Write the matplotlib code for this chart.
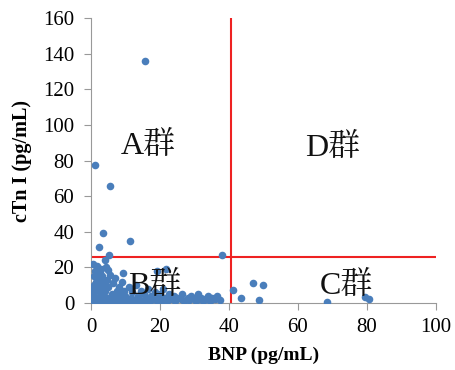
import matplotlib
matplotlib.use('Agg')
import matplotlib.pyplot as plt

# BNP (x) vs cTnI (y)
bnp = [15.7, 1.2, 5.5, 3.5, 11.3, 2.3, 38.0, 5.2, 4.1, 1.7, 21.7, 19.0, 9.3, 4.9,
       41.2, 47.0, 50.0, 43.5, 48.7, 68.4, 79.4, 80.6,
       0.5, 0.8, 1.0, 0.6, 1.2, 0.9, 1.5, 1.0, 2.0, 1.8, 2.2, 2.5, 3.0, 3.0, 3.5, 3.8,
       4.0, 4.2, 4.5, 5.0, 5.0, 5.5, 6.0, 6.0, 6.5, 7.0, 7.0, 7.5, 8.0, 8.0, 8.5, 9.0,
       9.0, 9.5, 10.0, 10.5, 11.0, 11.5, 12.0, 12.5, 13.0, 13.5, 14.0, 14.5, 15.0,
       15.5, 16.0, 16.5, 17.0, 17.5, 18.0, 18.5, 19.0, 19.5, 20.0, 20.5, 21.0, 21.5,
       22.0, 22.5, 23.0, 24.0, 24.5, 25.0, 26.0, 26.5, 27.0, 28.0, 28.5, 29.0, 30.0,
       30.5, 31.0, 32.0, 32.5, 33.0, 34.0, 34.5, 35.0, 36.0, 36.5, 37.5,
       0.3, 1.5, 2.8, 3.5, 4.8, 5.6, 7.0, 8.5, 10.0, 11.5, 13.0, 16.0, 20.0,
       0.4, 0.5, 1.3, 2.0, 2.5, 3.0, 0.7, 1.1, 2.6, 3.3, 4.4, 6.8, 9.8, 12.2, 14.8]
ctni = [136.0, 77.5, 65.7, 39.3, 34.8, 31.5, 27.0, 27.0, 24.0, 21.0, 19.0, 18.0, 17.0, 18.5,
        7.3, 11.0, 10.0, 3.0, 1.7, 0.6, 3.4, 2.2,
        0.5, 2.0, 4.0, 6.0, 8.0, 10.0, 12.0, 15.0, 14.0, 3.0, 1.0, 6.0, 9.0, 2.0, 11.0, 4.0,
        7.0, 1.5, 13.0, 3.0, 9.0, 16.0, 5.0, 1.0, 11.0, 14.0, 3.0, 7.0, 1.0, 9.0, 5.0, 12.0,
        2.0, 7.0, 4.0, 1.0, 9.0, 3.0, 6.0, 1.5, 10.0, 4.0, 2.0, 7.0, 1.0,
        5.0, 3.0, 8.0, 1.0, 4.0, 2.0, 6.0, 1.0, 3.0, 5.0, 1.0, 8.0, 3.0,
        1.0, 5.0, 2.0, 4.0, 1.0, 3.0, 2.0, 5.0, 1.0, 3.0, 1.5, 4.0, 2.0,
        1.0, 5.0, 3.0, 1.0, 2.0, 4.0, 1.0, 3.0, 2.0, 4.0, 1.5,
        0.0, 0.3, 0.2, 0.5, 0.1, 0.4, 0.3, 0.2, 0.1, 0.5, 0.2, 0.3, 0.2,
        5.0, 9.0, 6.5, 10.0, 17.0, 19.0, 22.0, 18.0, 13.0, 15.0, 20.0, 4.5, 2.5, 0.8, 1.2]

x_cut = 40.5
y_cut = 26
x_ticks = [0, 20, 40, 60, 80, 100]
y_ticks = [0, 20, 40, 60, 80, 100, 120, 140, 160]
groups = ['A群', 'B群', 'C群', 'D群']
group_pos = [(16.5, 88), (18.5, 9.5), (74, 9.5), (70, 87)]

plt.rcParams['font.family'] = ['Liberation Serif', 'Noto Serif CJK SC', 'Noto Sans CJK SC']

fig = plt.figure(figsize=(4.55, 3.7), dpi=100)
ax = fig.add_axes([0.2, 0.181, 0.758, 0.77])

ax.scatter(bnp, ctni, s=30, color='#4a7ebb', zorder=3, linewidths=0)
ax.axvline(x_cut, color='#ee2222', lw=1.5, zorder=2)
ax.axhline(y_cut, color='#ee2222', lw=1.5, zorder=2)

for g, (gx, gy) in zip(groups, group_pos):
    ax.text(gx, gy, g, fontsize=23, ha='center', va='center', zorder=4, color='#111111')

ax.set_xlim(0, 100)
ax.set_ylim(0, 160)
ax.set_xticks(x_ticks)
ax.set_yticks(y_ticks)
ax.tick_params(labelsize=15, length=5, color='#999999', direction='out')
ax.tick_params(axis='y', pad=7)
ax.tick_params(axis='x', pad=6)
for side in ['top', 'right']:
    ax.spines[side].set_visible(False)
for side in ['left', 'bottom']:
    ax.spines[side].set_color('#999999')
ax.set_xlabel('BNP (pg/mL)', fontsize=14, fontweight='bold', labelpad=7)
ax.set_ylabel('cTn I (pg/mL)', fontsize=14.5, fontweight='bold', labelpad=8)

fig.savefig('out.png', dpi=100)
